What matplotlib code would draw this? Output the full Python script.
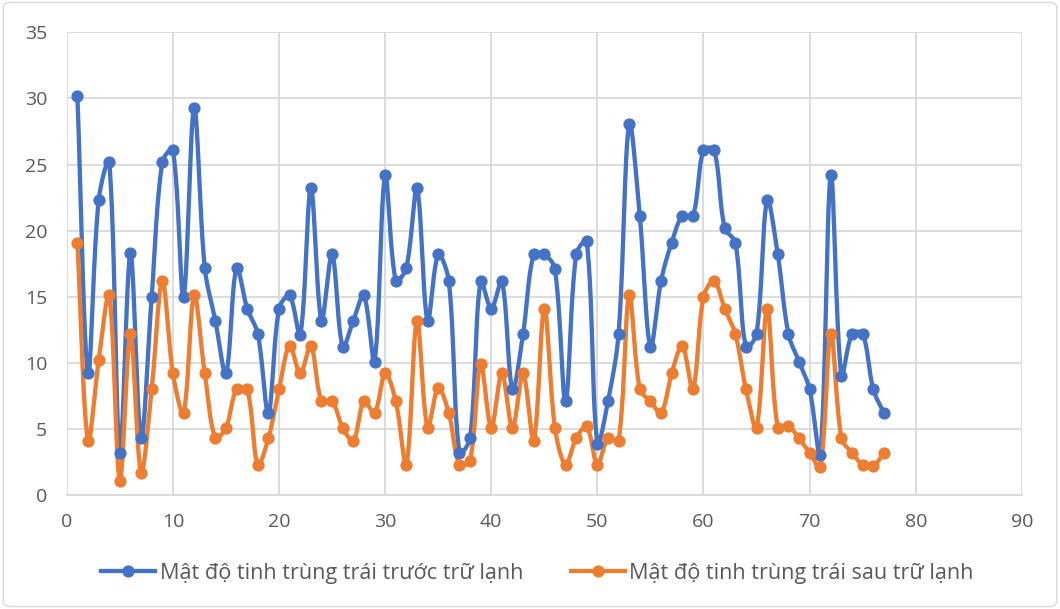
import numpy as np
import matplotlib
matplotlib.use("Agg")
import matplotlib.pyplot as plt
from matplotlib.lines import Line2D
from matplotlib.patches import FancyBboxPatch

x_vals = list(range(1, 78))
before = [30.2, 9.2, 22.3, 25.2, 3.2, 18.3, 4.3, 15.0, 25.2, 26.1,
          15.0, 29.3, 17.2, 13.2, 9.2, 17.2, 14.1, 12.2, 6.2, 14.1,
          15.1, 12.1, 23.2, 13.2, 18.2, 11.2, 13.2, 15.1, 10.1, 24.2,
          16.2, 17.2, 23.2, 13.2, 18.2, 16.2, 3.2, 4.3, 16.2, 14.1,
          16.2, 8.0, 12.2, 18.2, 18.2, 17.1, 7.1, 18.2, 19.2, 3.9,
          7.1, 12.2, 28.1, 21.1, 11.2, 16.2, 19.1, 21.1, 21.1, 26.1,
          26.1, 20.2, 19.1, 11.2, 12.2, 22.3, 18.2, 12.2, 10.1, 8.0,
          3.0, 24.2, 9.0, 12.2, 12.2, 8.0, 6.2]
after = [19.1, 4.1, 10.2, 15.1, 1.1, 12.2, 1.7, 8.0, 16.2, 9.2,
         6.2, 15.1, 9.2, 4.3, 5.1, 8.0, 8.0, 2.3, 4.3, 8.0,
         11.3, 9.2, 11.3, 7.1, 7.1, 5.1, 4.1, 7.1, 6.2, 9.2,
         7.1, 2.3, 13.2, 5.1, 8.1, 6.2, 2.3, 2.6, 9.9, 5.1,
         9.2, 5.1, 9.2, 4.1, 14.1, 5.1, 2.3, 4.3, 5.2, 2.3,
         4.3, 4.1, 15.1, 8.0, 7.1, 6.2, 9.2, 11.3, 8.0, 15.0,
         16.2, 14.1, 12.2, 8.0, 5.1, 14.1, 5.1, 5.2, 4.3, 3.2,
         2.1, 12.2, 4.3, 3.2, 2.3, 2.2, 3.2]
series_names = ["Mật độ tinh trùng trái trước trữ lạnh",
                "Mật độ tinh trùng trái sau trữ lạnh"]
colors = ["#4472C4", "#ED7D31"]
x_ticks = list(range(0, 91, 10))
y_ticks = list(range(0, 36, 5))

# approximate pixel scale of one data unit (for chord-length weighting)
SX, SY = 10.64, 13.2


def smooth(xs, ys, n=24):
    X = np.asarray(xs, float) * SX
    Y = np.asarray(ys, float) * SY
    P = np.column_stack([X, Y])
    P = np.vstack([P[0], P, P[-1]])
    t = np.linspace(0, 1, n, endpoint=False)[:, None]
    out = []
    for i in range(1, len(P) - 2):
        p0, p1, p2, p3 = P[i - 1], P[i], P[i + 1], P[i + 2]
        d01 = np.linalg.norm(p1 - p0)
        d12 = np.linalg.norm(p2 - p1)
        d23 = np.linalg.norm(p3 - p2)
        w1 = d12 / (d01 + d12) if d01 + d12 > 0 else 0.5
        w2 = d12 / (d12 + d23) if d12 + d23 > 0 else 0.5
        c1 = p1 + (p2 - p0) * w1 / 3
        c2 = p2 - (p3 - p1) * w2 / 3
        seg = ((1 - t) ** 3) * p1 + 3 * ((1 - t) ** 2) * t * c1 \
            + 3 * (1 - t) * t ** 2 * c2 + t ** 3 * p2
        out.append(seg)
    out.append(P[-2][None, :])
    out = np.vstack(out)
    return out[:, 0] / SX, out[:, 1] / SY


plt.rcParams['font.family'] = ['Open Sans', 'DejaVu Sans']

fig = plt.figure(figsize=(10.6, 6.09), dpi=100)
fig.patches.append(FancyBboxPatch((0.003, 0.004), 0.994, 0.992,
                                  boxstyle="round,pad=0,rounding_size=0.008",
                                  transform=fig.transFigure, fill=False,
                                  edgecolor="#D9D9D9", linewidth=1.0))
ax = fig.add_axes([0.063, 0.187, 0.901, 0.760])

for ys, c in zip([before, after], colors):
    sx, sy = smooth(x_vals, ys)
    ax.plot(sx, sy, color=c, lw=3.1, solid_capstyle='round',
            solid_joinstyle='round', zorder=3)
    ax.plot(x_vals, ys, 'o', color=c, ms=7.8, zorder=4)

ax.set_xlim(0, 90)
ax.set_ylim(0, 35)
ax.set_xticks(x_ticks)
ax.set_yticks(y_ticks)
ax.grid(True, color="#D9D9D9", lw=1.3)
ax.set_axisbelow(True)
for s in ["top", "right", "left"]:
    ax.spines[s].set_visible(False)
ax.spines["bottom"].set_color("#D9D9D9")
ax.spines["bottom"].set_linewidth(1.3)
ax.tick_params(axis='both', length=0, labelsize=14, labelcolor="#595959")
ax.tick_params(axis='y', pad=14)
ax.tick_params(axis='x', pad=13)

handles = [Line2D([0], [0], color=c, lw=3.1, marker='o', ms=7.8) for c in colors]
fig.legend(handles, series_names, loc='center', bbox_to_anchor=(0.507, 0.059),
           ncol=2, frameon=False, fontsize=15.6, handlelength=2.5,
           handletextpad=0.2, columnspacing=2.2, labelcolor="#595959")

fig.savefig("out.png", dpi=100)
